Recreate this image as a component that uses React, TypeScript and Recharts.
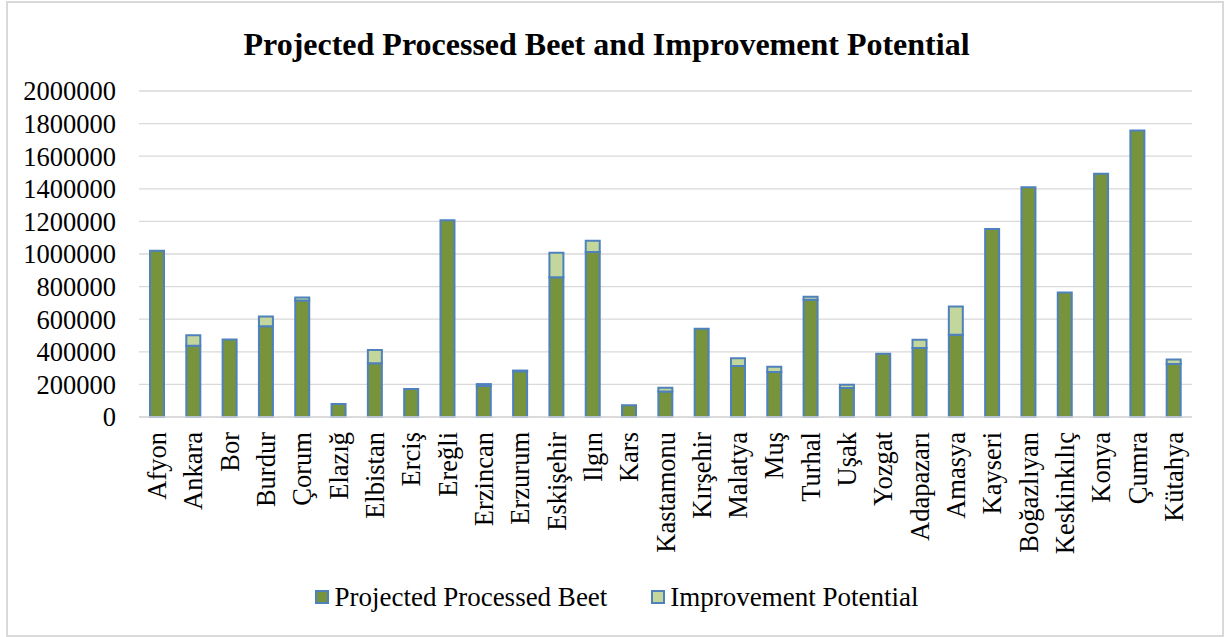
import React from 'react';
import { BarChart, Bar, XAxis, YAxis, CartesianGrid, Legend } from 'recharts';

const cities = [
  'Afyon', 'Ankara', 'Bor', 'Burdur', 'Çorum', 'Elazığ', 'Elbistan', 'Erciş', 'Ereğli', 'Erzincan',
  'Erzurum', 'Eskişehir', 'Ilgın', 'Kars', 'Kastamonu', 'Kırşehir', 'Malatya', 'Muş', 'Turhal', 'Uşak',
  'Yozgat', 'Adapazarı', 'Amasya', 'Kayseri', 'Boğazlıyan', 'Keskinkılıç', 'Konya', 'Çumra', 'Kütahya',
];

const projectedBeet = [
  1020000, 437000, 476000, 556000, 715000, 80000, 329000, 172000, 1207000, 190000,
  280000, 858000, 1013000, 72000, 157000, 541000, 313000, 276000, 719000, 178000,
  388000, 423000, 505000, 1154000, 1410000, 764000, 1493000, 1757000, 325000,
];

const improvementPotential = [
  0, 65000, 0, 61000, 18000, 0, 82000, 0, 0, 12000,
  5000, 150000, 68000, 0, 23000, 0, 47000, 32000, 18000, 20000,
  0, 51000, 173000, 0, 0, 0, 0, 0, 28000,
];

const yTicks = [0, 200000, 400000, 600000, 800000, 1000000, 1200000, 1400000, 1600000, 1800000, 2000000];

const FONT = '"Liberation Serif", "Times New Roman", serif';
const GREEN = '#77933C';
const LIGHT = '#C3D69B';
const EDGE = '#4F81BD';

const data = cities.map((city, i) => ({
  city,
  projected: projectedBeet[i],
  improvement: improvementPotential[i],
}));

const CityTick = (props: any) => {
  const { x, y, payload } = props;
  return (
    <g transform={`translate(${x},${y})`}>
      <text
        transform="rotate(-90)"
        textAnchor="end"
        dominantBaseline="central"
        fontSize={26.5}
        fontFamily={FONT}
        fill="#000"
      >
        {payload.value}
      </text>
    </g>
  );
};

const LegendBox = () => {
  const items = [
    { label: 'Projected Processed Beet', color: GREEN },
    { label: 'Improvement Potential', color: LIGHT },
  ];
  return (
    <div style={{ display: 'flex', justifyContent: 'center', gap: 44, fontFamily: FONT, fontSize: 27, color: '#000', height: 30, alignItems: 'center', paddingLeft: 42 }}>
      {items.map((it) => (
        <div key={it.label} style={{ display: 'flex', alignItems: 'center' }}>
          <span style={{ display: 'inline-block', width: 10, height: 10, background: it.color, border: `2px solid ${EDGE}`, marginRight: 5 }} />
          <span>{it.label}</span>
        </div>
      ))}
    </div>
  );
};

export default function App() {
  return (
    <div style={{ position: 'absolute', left: 0, top: 0, width: 1225, height: 637, background: '#fff' }}>
      <div style={{ position: 'absolute', left: 6, top: 1, width: 1214, height: 632, border: '2px solid #d9d9d9' }} />
      <div
        style={{
          position: 'absolute', left: 0, top: 26, width: 1213, textAlign: 'center',
          fontFamily: FONT, fontWeight: 'bold', fontSize: 32, lineHeight: '36px', color: '#000',
        }}
      >
        Projected Processed Beet and Improvement Potential
      </div>
      <div style={{ position: 'absolute', left: 0, top: 0 }}>
        <BarChart
          width={1225}
          height={637}
          data={data}
          margin={{ top: 91, right: 33, bottom: 25, left: 0 }}
          barSize={14}
        >
          <CartesianGrid horizontal vertical={false} stroke="#d9d9d9" strokeWidth={1.3} />
          <XAxis
            dataKey="city"
            interval={0}
            height={165}
            tickLine={false}
            tickSize={0}
            tickMargin={15}
            axisLine={{ stroke: '#d9d9d9', strokeWidth: 1.3 }}
            tick={<CityTick />}
          />
          <YAxis
            width={139}
            domain={[0, 2000000]}
            ticks={yTicks}
            interval={0}
            axisLine={false}
            tickLine={false}
            tickSize={0}
            tickMargin={23}
            tick={{ fontSize: 26.5, fontFamily: FONT, fill: '#000' }}
          />
          <Legend verticalAlign="bottom" content={<LegendBox />} />
          <Bar dataKey="projected" name="Projected Processed Beet" stackId="a" fill={GREEN} stroke={EDGE} strokeWidth={2} isAnimationActive={false} />
          <Bar dataKey="improvement" name="Improvement Potential" stackId="a" fill={LIGHT} stroke={EDGE} strokeWidth={2} isAnimationActive={false} />
        </BarChart>
      </div>
    </div>
  );
}
